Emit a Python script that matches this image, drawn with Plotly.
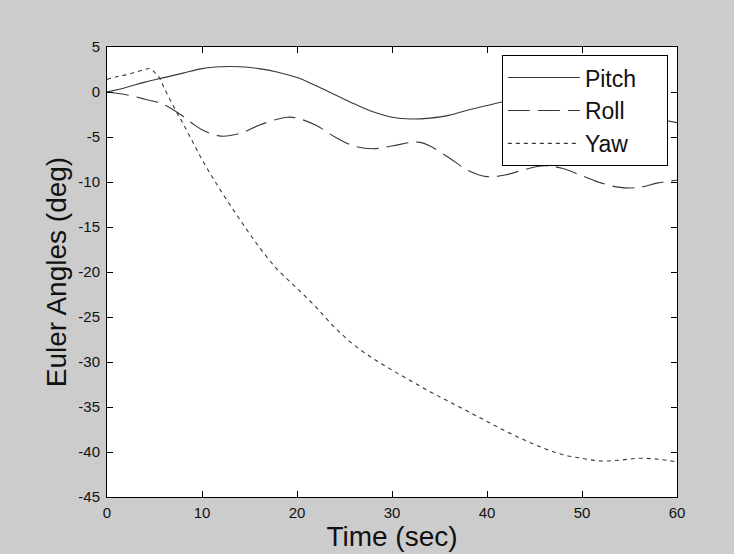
import plotly.graph_objects as go

# Pitch (solid)
t_pitch = [0, 2, 4, 6, 8, 10, 12, 14, 16, 18, 20, 22, 24, 26, 28, 30, 32, 34, 36, 38, 40, 42, 44, 46, 48, 50, 52, 54, 56, 58, 60]
pitch = [0, 0.5, 1.1, 1.6, 2.1, 2.6, 2.8, 2.8, 2.6, 2.2, 1.6, 0.7, -0.3, -1.3, -2.2, -2.8, -3.0, -2.9, -2.6, -2.0, -1.5, -1.0, -0.7, -0.6, -0.8, -1.1, -1.6, -2.1, -2.6, -3.0, -3.4]

# Roll (dashed)
t_roll = [0, 2, 4, 6, 8, 9, 10, 12, 14, 16, 18, 19, 20, 22, 24, 26, 28, 30, 32, 33, 34, 36, 38, 40, 42, 44, 46, 48, 50, 52, 54, 56, 58, 60]
roll = [0, -0.3, -0.8, -1.4, -2.7, -3.5, -4.2, -4.9, -4.6, -3.7, -3.0, -2.8, -2.9, -3.7, -5.0, -6.0, -6.3, -6.0, -5.6, -5.6, -6.0, -7.3, -8.7, -9.4, -9.2, -8.6, -8.2, -8.5, -9.3, -10.1, -10.6, -10.6, -10.1, -9.8]

# Yaw (dotted)
t_yaw = [0, 1, 2, 3, 4, 4.5, 5, 5.5, 6, 7, 8, 9, 10, 11, 12, 14, 16, 18, 20, 22, 24, 26, 28, 30, 32, 34, 36, 38, 40, 42, 44, 46, 48, 50, 52, 54, 56, 58, 60]
yaw = [1.4, 1.7, 1.9, 2.2, 2.5, 2.6, 2.2, 1.6, 0.5, -1.6, -3.5, -5.5, -7.5, -9.3, -11.0, -14.2, -17.2, -19.8, -21.8, -23.9, -26.2, -28.1, -29.6, -30.9, -32.1, -33.3, -34.4, -35.5, -36.6, -37.7, -38.7, -39.6, -40.3, -40.7, -41.0, -40.9, -40.7, -40.8, -41.1]

series_names = ["Pitch", "Roll", "Yaw"]
x_ticks = [0, 10, 20, 30, 40, 50, 60]
y_ticks = [5, 0, -5, -10, -15, -20, -25, -30, -35, -40, -45]

line_color = "#383838"
tick_font = dict(family="Liberation Sans, Arial, Helvetica", size=15, color="#111111")
title_font = dict(family="Liberation Sans, Arial, Helvetica", size=28, color="#111111")
pad = "\u00a0" * 4  # right padding inside the legend box

fig = go.Figure()
fig.add_trace(go.Scatter(x=t_pitch, y=pitch, mode="lines", name=series_names[0] + pad,
                         line=dict(color=line_color, width=1.1, shape="spline")))
fig.add_trace(go.Scatter(x=t_roll, y=roll, mode="lines", name=series_names[1],
                         line=dict(color=line_color, width=1.1, dash="22px,8px", shape="spline")))
fig.add_trace(go.Scatter(x=t_yaw, y=yaw, mode="lines", name=series_names[2],
                         line=dict(color=line_color, width=1.1, dash="4px,4px", shape="spline")))

fig.update_layout(
    width=734, height=554,
    paper_bgcolor="#cccccc",
    plot_bgcolor="#ffffff",
    margin=dict(l=107, r=57, t=47, b=57, autoexpand=False),
    showlegend=True,
    legend=dict(
        x=0.984, y=0.982, xanchor="right", yanchor="top",
        bgcolor="#ffffff", bordercolor="#000000", borderwidth=1,
        font=dict(family="Liberation Sans, Arial, Helvetica", size=23, color="#111111"),
        itemwidth=72, tracegroupgap=0,
    ),
    xaxis=dict(
        range=[0, 60], tickvals=x_ticks, ticktext=[str(v) for v in x_ticks],
        ticks="inside", ticklen=6, tickcolor="#000000", showline=True, linecolor="#000000",
        linewidth=1, mirror="ticks", showgrid=False, zeroline=False, tickfont=tick_font,
        ticklabelstandoff=2,
        title=dict(text="Time (sec)", font=title_font, standoff=5),
        automargin=False,
    ),
    yaxis=dict(
        range=[-45, 5], tickvals=y_ticks, ticktext=[str(v) for v in y_ticks],
        ticks="inside", ticklen=6, tickcolor="#000000", showline=True, linecolor="#000000",
        linewidth=1, mirror="ticks", showgrid=False, zeroline=False, tickfont=tick_font,
        ticklabelstandoff=3,
        title=dict(text="Euler Angles (deg)", font=title_font, standoff=3),
        automargin=False,
    ),
)

fig.write_html("out.html", config={"displayModeBar": False},
               post_script="document.body.style.margin='0';")
